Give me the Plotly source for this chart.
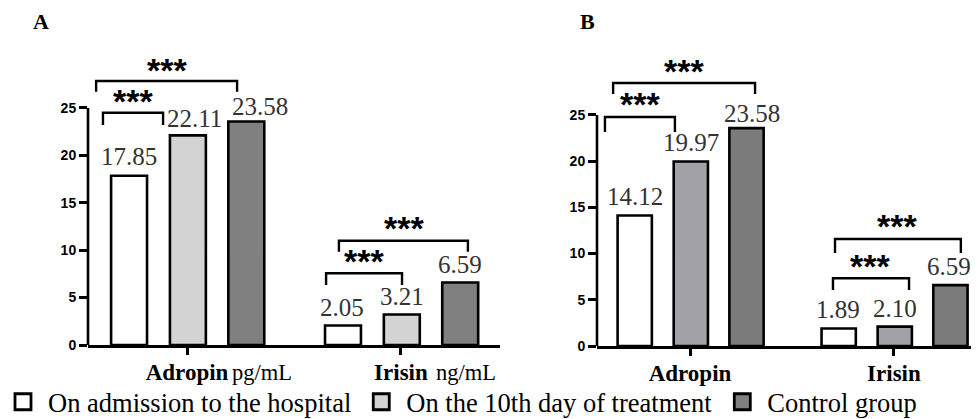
import plotly.graph_objects as go

# ---------------- data ----------------
categories = ["Adropin", "Irisin"]
units = ["pg/mL", "ng/mL"]
series_names = ["On admission to the hospital", "On the 10th day of treatment", "Control group"]

a_admission = [17.85, 2.05]
a_day10 = [22.11, 3.21]
a_control = [23.58, 6.59]

b_admission = [14.12, 1.89]
b_day10 = [19.97, 2.10]
b_control = [23.58, 6.59]

y_ticks = [0, 5, 10, 15, 20, 25]
sig_label = "***"

# ---------------- styles / layout helpers ----------------
W, H, OFF = 971, 411, 8   # page body margin of 8px in the browser


def px_x(px):
    return (px - OFF) / W


def px_y(py):
    return 1 - (py - OFF) / H


colors_a = ["#ffffff", "#d3d3d3", "#808080"]
colors_b = ["#ffffff", "#a2a2a8", "#7b7b7b"]
legend_colors = ["#ffffff", "#d3d3d3", "#808080"]
bar_offsets = [-0.355, -0.08, 0.193]
bar_width = 0.168
SERIF = "Liberation Serif"
SANS = "Liberation Sans"

fig = go.Figure()

panels = [
    dict(name="A", xa="x", ya="y", vals=[a_admission, a_day10, a_control], colors=colors_a,
         nudges=[[(0, 10), (-1, 9)], [(7, 7), (0, 9)], [(14, 5), (0, 9)]]),
    dict(name="B", xa="x2", ya="y2", vals=[b_admission, b_day10, b_control], colors=colors_b,
         nudges=[[(0, 10), (-1, 10)], [(0, 9.5), (0, 9)], [(5, 5), (-1, 9)]]),
]

annotations = []
shapes = []

for p in panels:
    for i, (vals, col) in enumerate(zip(p["vals"], p["colors"])):
        fig.add_trace(go.Bar(
            x=categories, y=vals, xaxis=p["xa"], yaxis=p["ya"],
            width=bar_width, offset=bar_offsets[i],
            marker=dict(color=col, line=dict(color="black", width=2.6)),
            name=series_names[i], showlegend=False, hoverinfo="x+y",
        ))
        for j, v in enumerate(vals):
            xs, gap = p["nudges"][i][j]
            annotations.append(dict(
                x=j + bar_offsets[i] + bar_width / 2, y=v, xref=p["xa"], yref=p["ya"],
                text=f"{v:.2f}", showarrow=False, xanchor="center", yanchor="bottom",
                xshift=xs, yshift=gap - 6,
                font=dict(family=SERIF, size=25, color="#333333"),
            ))
    shapes.append(dict(type="line", xref=p["xa"] + " domain", yref=p["ya"],
                       x0=0, x1=0, y0=0, y1=25, line=dict(color="black", width=2.6)))

# significance brackets: (x0, x1, top, legs, star_x, star_y)
brackets = {
    "A": [(-0.393, -0.112, 24.5, 23.2, -0.252, 26.05),
          (-0.425, 0.234, 27.85, 26.7, -0.095, 29.3),
          (0.650, 1.005, 7.56, 6.33, 0.827, 9.18),
          (0.710, 1.313, 11.0, 9.84, 1.012, 12.66)],
    "B": [(-0.417, -0.074, 24.78, 23.16, -0.245, 26.5),
          (-0.377, 0.319, 28.46, 27.27, -0.029, 30.1),
          (0.701, 1.074, 7.33, 6.06, 0.882, 8.98),
          (0.711, 1.328, 11.58, 10.06, 1.015, 13.3)],
}
for p in panels:
    for (x0, x1, top, leg, sx, sy) in brackets[p["name"]]:
        shapes.append(dict(type="path", xref=p["xa"], yref=p["ya"],
                           path=f"M{x0},{leg} L{x0},{top} L{x1},{top} L{x1},{leg}",
                           line=dict(color="black", width=2.4)))
        annotations.append(dict(x=sx, y=sy, xref=p["xa"], yref=p["ya"], text=sig_label,
                                showarrow=False, xanchor="center", yanchor="middle", yshift=-3,
                                font=dict(family=SANS, size=34, color="black", weight="bold")))

# units beside category labels (panel A)
annotations.append(dict(x=0.201, y=px_y(372), xref="x", yref="paper", text=units[0], showarrow=False,
                        xanchor="left", yanchor="middle", font=dict(family=SERIF, size=22.5, color="black")))
annotations.append(dict(x=1.154, y=px_y(372), xref="x", yref="paper", text=units[1], showarrow=False,
                        xanchor="left", yanchor="middle", font=dict(family=SERIF, size=22.5, color="black")))

# panel letters
annotations.append(dict(x=px_x(41), y=px_y(22), xref="paper", yref="paper", text="A", showarrow=False,
                        xanchor="center", yanchor="middle",
                        font=dict(family=SERIF, size=22, color="black", weight="bold")))
annotations.append(dict(x=px_x(587), y=px_y(22), xref="paper", yref="paper", text="B", showarrow=False,
                        xanchor="center", yanchor="middle",
                        font=dict(family=SERIF, size=22, color="black", weight="bold")))

# legend entries
for name, col in zip(series_names, legend_colors):
    fig.add_trace(go.Scatter(x=[None], y=[None], mode="markers", name=name,
                             marker=dict(symbol="square", size=16, color=col,
                                         line=dict(color="black", width=2.8)),
                             showlegend=True))

xaxis_common = dict(type="category", showline=True, linecolor="black", linewidth=2.6,
                    ticks="outside", ticklen=7, tickwidth=2.6, tickcolor="black",
                    showgrid=False, zeroline=False, ticklabelstandoff=-2,
                    tickfont=dict(family=SERIF, size=23, color="black", weight="bold"),
                    fixedrange=True)
yaxis_common = dict(range=[0, 32], tickvals=y_ticks, showline=False, showgrid=False, zeroline=False,
                    ticks="outside", ticklen=8, tickwidth=2.6, tickcolor="black",
                    tickfont=dict(family=SANS, size=14, color="black", weight="bold"),
                    fixedrange=True)

fig.update_layout(
    width=W, height=H,
    margin=dict(l=0, r=0, t=0, b=0, autoexpand=False),
    paper_bgcolor="white", plot_bgcolor="white",
    barmode="overlay",
    xaxis=dict(domain=[px_x(88), px_x(500)], range=[-0.463, 1.463], anchor="y", **xaxis_common),
    yaxis=dict(domain=[px_y(345), px_y(41.6)], anchor="x", **yaxis_common),
    xaxis2=dict(domain=[px_x(597), 1.0], range=[-0.456, 1.417], anchor="y2", **xaxis_common),
    yaxis2=dict(domain=[px_y(346), px_y(50.3)], anchor="x2", **yaxis_common),
    legend=dict(orientation="h", x=-10 / W, xanchor="left", y=-7 / H, yanchor="bottom",
                font=dict(family=SERIF, size=26.5, color="black"), itemwidth=40,
                bgcolor="rgba(0,0,0,0)", tracegroupgap=0),
    annotations=annotations, shapes=shapes,
)

fig.write_html("out.html")
